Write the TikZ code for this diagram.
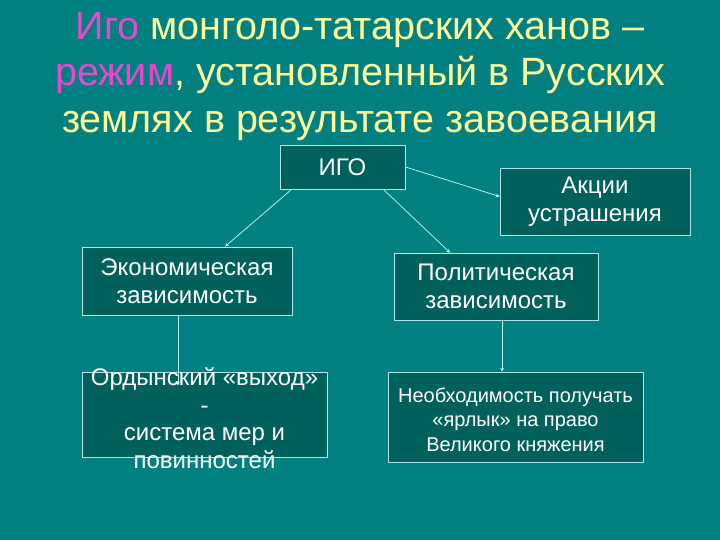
\documentclass[tikz,border=0pt]{standalone}
\usepackage{fontspec}
\setmainfont{Liberation Sans}
\usetikzlibrary{arrows, positioning}

\definecolor{slidebg}{RGB}{0,128,128}
\definecolor{boxfill}{RGB}{0,96,92}
\definecolor{boxline}{RGB}{175,230,228}
\definecolor{linkcol}{RGB}{200,250,250}
\definecolor{titleyel}{RGB}{255,255,153}
\definecolor{titlemag}{RGB}{232,72,204}

\begin{document}
\begin{tikzpicture}[
    x=1pt, y=-1pt,
    box/.style={rectangle, draw=boxline, line width=0.8pt, fill=boxfill, text=white, align=center, inner sep=0pt},
    boxtext/.style={font=\fontsize{24}{27.5}\selectfont},
    arrow/.style={->, >=stealth, draw=linkcol, line width=0.7pt}
]

% Background
\fill[slidebg] (0,0) rectangle (720,540);
\useasboundingbox (0,0) rectangle (720,540);

% Title
\node[anchor=north, align=center, text=titleyel, inner sep=0pt,
      font=\fontsize{39.5}{46.5}\selectfont] (title) at (360,11.7)
  {\textcolor{titlemag}{Иго} монголо-татарских ханов --\\
   \textcolor{titlemag}{режим}, установленный в Русских\\
   землях в результате завоевания};

% Top level
\node[box, boxtext, minimum width=125pt, minimum height=44pt] (igo) at (342.5,167) {ИГО};
\node[box, boxtext, minimum width=190pt, minimum height=67pt] (akcii) at (595,201.5) {Акции\\устрашения};

% Second level
\node[box, boxtext, minimum width=210pt, minimum height=68pt] (econ) at (187,281) {Экономическая\\зависимость};
\node[box, boxtext, minimum width=204pt, minimum height=67pt] (polit) at (496,286.5) {Политическая\\зависимость};

% Third level
\node[box, minimum width=245pt, minimum height=85pt] (ord) at (204.5,414.5) {};
\node[box, minimum width=255pt, minimum height=90pt, font=\fontsize{20}{24.5}\selectfont] (need) at (515.5,417)
  {\rule{0pt}{20pt}Необходимость получать\\«ярлык» на право\\Великого княжения};

% Arrows
\draw[arrow] ([xshift=12pt]igo.south west) -- ([xshift=38pt]econ.north);
\draw[arrow] ([xshift=-22pt]igo.south east) -- ([xshift=-46pt]polit.north);
\draw[arrow] (igo.east) -- ([yshift=5pt]akcii.west);
\draw[arrow] ([xshift=-9pt]econ.south) -- ([xshift=-9pt,yshift=-14pt]econ.south |- ord.north);
\draw[arrow] ([xshift=6pt]polit.south) -- ([xshift=6pt]polit.south |- need.north);

% Text of the overfull box
\node[boxtext, text=white, align=center, inner sep=0pt] (ordtext) at ([yshift=-3.5pt]ord.center)
  {Ордынский «выход»\\-\\система мер и\\повинностей};

\end{tikzpicture}
\end{document}
